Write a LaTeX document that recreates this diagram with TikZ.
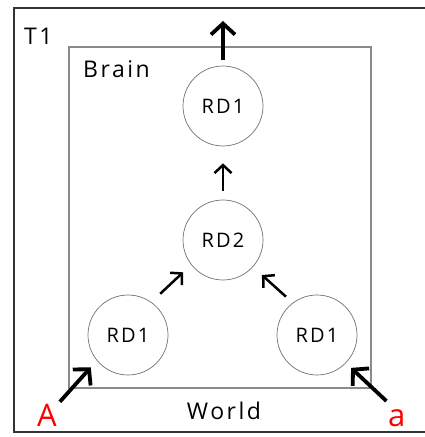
\documentclass[tikz,border=0pt]{standalone}
\usepackage{fontspec}
\setmainfont{Open Sans}
\newfontfamily\labfont[LetterSpace=11]{Open Sans}
\usetikzlibrary{arrows.meta}
\definecolor{outerc}{HTML}{333333}
\definecolor{innerc}{HTML}{8A8A8A}
\definecolor{circc}{HTML}{707070}
\definecolor{redc}{HTML}{FF0000}
\tikzset{
  rd/.style={circle, draw=circc, line width=0.7pt, minimum size=80pt, inner sep=0pt, font=\labfont\fontsize{20}{20}\selectfont},
  lbl/.style={inner sep=0pt, anchor=base west, font=\labfont\fontsize{23}{23}\selectfont},
  redlbl/.style={inner sep=0pt, anchor=base west, text=redc, font=\fontsize{31}{31}\selectfont},
  thickarrow/.style={line width=3.8pt, -{Straight Barb[length=11pt,width=24pt]}},
  thinarrow/.style={line width=2.5pt, -{Straight Barb[length=8pt,width=17pt]}}
}
\begin{document}
\begin{tikzpicture}[x=1pt,y=1pt]
\useasboundingbox (0,0) rectangle (424,437);
% outer frame (right side beyond page edge)
\draw[outerc, line width=1.5pt] (430,429) -- (14,429) -- (14,5) -- (430,5);
% inner box
\draw[innerc, line width=1.2pt] (69,49) rectangle (371,390);
% labels
\node[lbl] (t1) at (24,392) {T1};
\node[lbl] (brain) at (83,359) {Brain};
\node[lbl, anchor=base] (world) at (224,17) {World};
\node[redlbl] (A) at (37,10) {A};
\node[redlbl] (a) at (388,10) {a};
% circles
\node[rd] (rdtop) at (223,331) {RD1};
\node[rd] (rd2) at (223,197) {RD2};
\node[rd] (rdl) at (128,102) {RD1};
\node[rd] (rdr) at (317,102) {RD1};
\coordinate (out) at (223,416);
% arrows
\draw[thickarrow, shorten <=6pt] (rdtop) -- (out);
\draw[thinarrow, shorten <=9pt, shorten >=17pt] (rd2.north) -- (rdtop.south);
\draw[thinarrow] ([shift={(52:12pt)}]rdl.52) -- ([shift={(219:11pt)}]rd2.219);
\draw[thinarrow] ([shift={(129:9pt)}]rdr.129) -- ([shift={(318:12pt)}]rd2.318);
\draw[thickarrow] ([shift={(45:4pt)}]A.north east) -- ([shift={(221:9pt)}]rdl.221);
\draw[thickarrow] ([shift={(100:9pt)}]a.north west) -- ([shift={(316:7pt)}]rdr.316);
\end{tikzpicture}
\end{document}
